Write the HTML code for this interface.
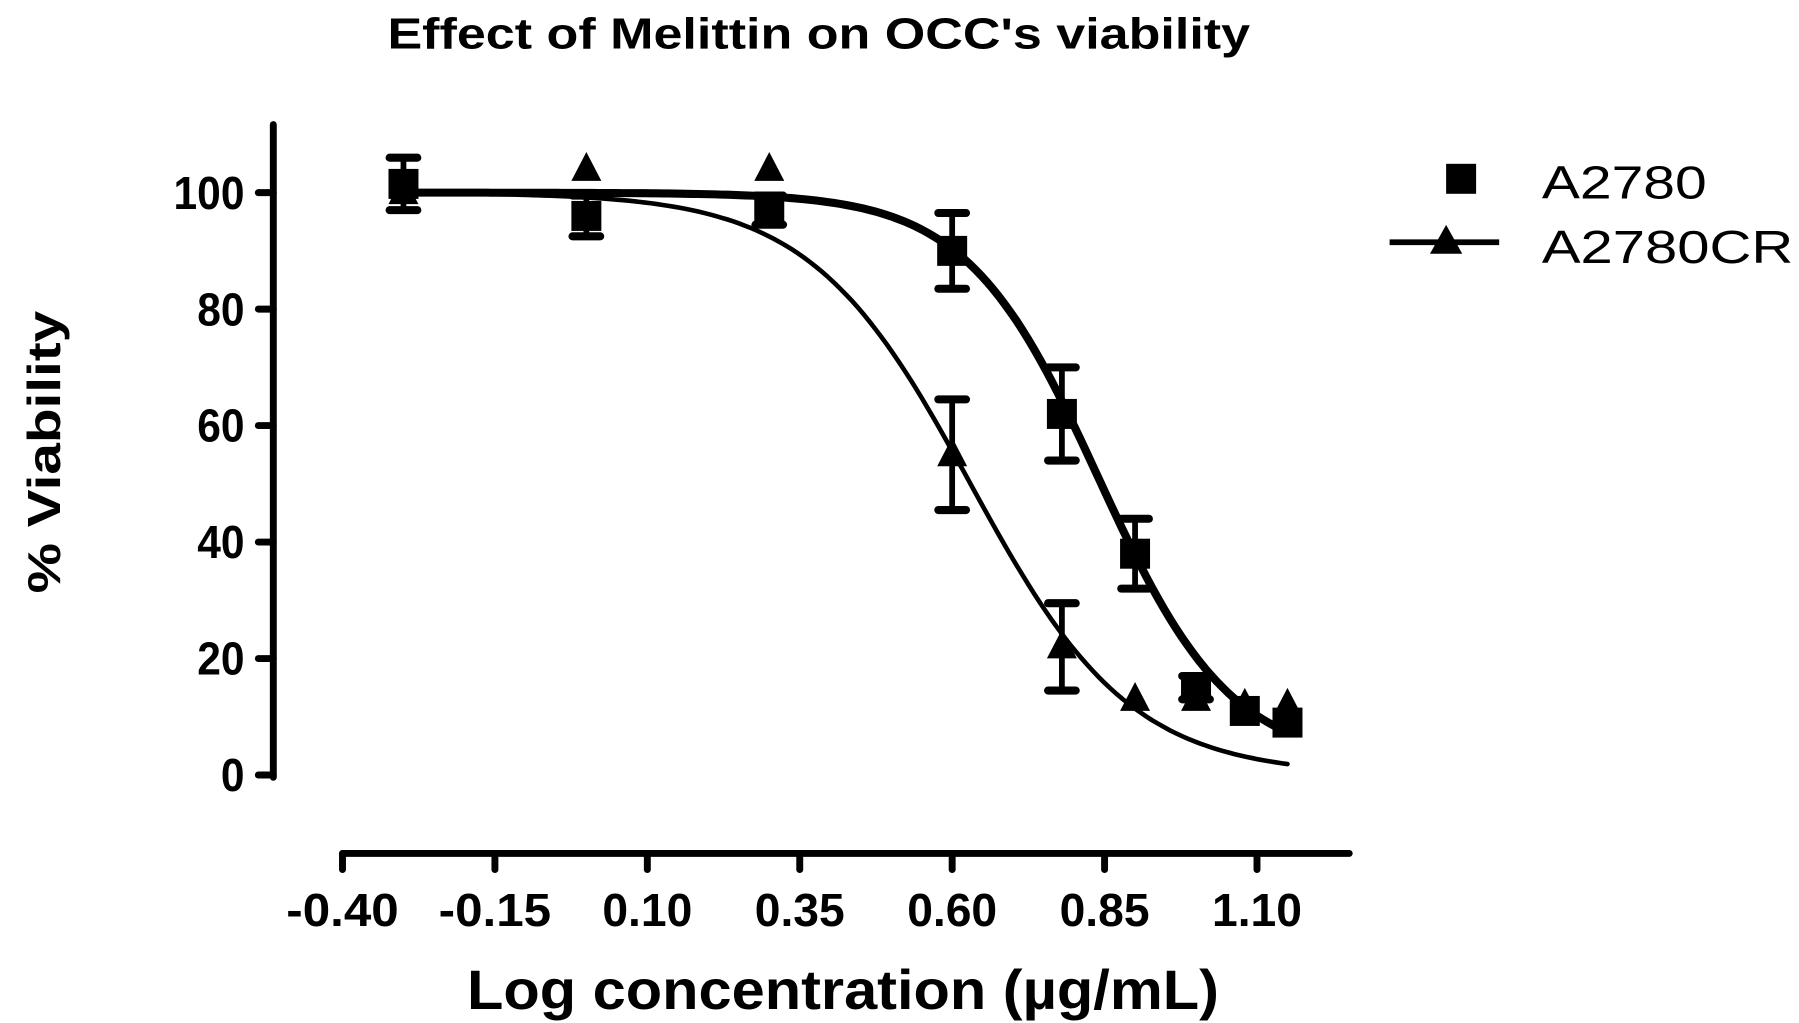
<!DOCTYPE html>
<html><head><meta charset="utf-8"><style>html,body{margin:0;padding:0;background:#fff}svg{display:block}</style></head>
<body>
<svg id="chart" width="1799" height="1023" viewBox="0 0 1560 887" xmlns="http://www.w3.org/2000/svg" font-family="Liberation Sans, sans-serif">
<text x="710" y="42" text-anchor="middle" font-size="38" font-weight="bold" textLength="748" lengthAdjust="spacingAndGlyphs">Effect of Melittin on OCC's viability</text>
<text transform="translate(52,392) rotate(-90)" text-anchor="middle" font-size="40" font-weight="bold" textLength="245" lengthAdjust="spacingAndGlyphs">% Viability</text>
<text x="731" y="875" text-anchor="middle" font-size="48" font-weight="bold" textLength="652" lengthAdjust="spacingAndGlyphs">Log concentration (µg/mL)</text>
<g>
<rect x="1254" y="142" width="26" height="26"/>
<text x="1337" y="172" font-size="40" textLength="143" lengthAdjust="spacingAndGlyphs">A2780</text>
<line x1="1205" y1="210" x2="1300" y2="210" stroke="#000" stroke-width="5"/>
<polygon points="1254,195 1268,220 1240,220"/>
<text x="1337" y="228" font-size="40" textLength="218" lengthAdjust="spacingAndGlyphs">A2780CR</text>
</g>
<g id="plot"></g>
</svg>
<script>
const xTicks = [-0.40, -0.15, 0.10, 0.35, 0.60, 0.85, 1.10];
const yTicks = [0, 20, 40, 60, 80, 100];
const doses = [-0.30, 0.00, 0.30, 0.60, 0.78, 0.90, 1.00, 1.08, 1.15];
const a2780 = [101.5, 96, 97, 90, 62, 38, 15, 11, 9];
const a2780Err = [4.5, 3.5, 2.5, 6.5, 8, 6, 2, 1.5, 1.5];
const a2780cr = [100, 104, 104, 55, 22, 13, 13, 12, 12];
const a2780crErr = [1, 1, 1, 9.5, 7.5, 1, 1, 1, 1];
const fitA2780 = [100, 2, 0.84, 4.0];   // top, bottom, logIC50, hill
const fitA2780cr = [100, 0, 0.63, 3.3];

const NS = 'http://www.w3.org/2000/svg';
const plot = document.getElementById('plot');
const X = v => 297 + (v + 0.4) * (1090 - 297) / 1.5;
const Y = v => 672 - v * (672 - 167) / 100;
function mk(tag, attrs, parent) {
  const e = document.createElementNS(NS, tag);
  for (const k in attrs) e.setAttribute(k, attrs[k]);
  (parent || plot).appendChild(e);
  return e;
}
let e = mk('line', {x1: 237, y1: 108, x2: 237, y2: 674, stroke: '#000', 'stroke-width': 6, 'stroke-linecap': 'round'});


e = mk('line', {x1: 297, y1: 740, x2: 1170, y2: 740, stroke: '#000', 'stroke-width': 6, 'stroke-linecap': 'round'});


yTicks.forEach(t => {
  const l = mk('line', {x1: 224, y1: Y(t), x2: 237, y2: Y(t), stroke: '#000', 'stroke-width': 6, 'stroke-linecap': 'round'});
  
  
  const s = String(t);
  const tx = mk('text', {x: 212, y: Y(t) + 14, 'text-anchor': 'end', 'font-size': 40, 'font-weight': 'bold', textLength: s.length * 20.5, lengthAdjust: 'spacingAndGlyphs'});
  tx.textContent = s;
  
  
});
xTicks.forEach(t => {
  const l = mk('line', {x1: X(t), y1: 740, x2: X(t), y2: 754, stroke: '#000', 'stroke-width': 6, 'stroke-linecap': 'round'});
  
  
  const s = t.toFixed(2);
  const tx = mk('text', {x: X(t), y: 803, 'text-anchor': 'middle', 'font-size': 40, 'font-weight': 'bold', textLength: s.length * 19.5, lengthAdjust: 'spacingAndGlyphs'});
  tx.textContent = s;
  
  
});
function curve(p, w, name) {
  let d = '';
  for (let i = 0; i <= 150; i++) {
    const x = doses[0] + (doses[doses.length - 1] - doses[0]) * i / 150;
    const y = p[1] + (p[0] - p[1]) / (1 + Math.pow(10, (x - p[2]) * p[3]));
    d += (i ? 'L' : 'M') + X(x).toFixed(1) + ',' + Y(y).toFixed(1);
  }
  const c = mk('path', {d: d, fill: 'none', stroke: '#000', 'stroke-width': w, 'stroke-linecap': 'round'});
  
  
}
function errs(vals, errsArr, name) {
  vals.forEach((v, i) => {
    if (errsArr[i] < 2) return;
    const x = X(doses[i]), y1 = Y(v + errsArr[i]), y2 = Y(v - errsArr[i]);
    const g = mk('g', {stroke: '#000', 'stroke-width': 5, 'stroke-linecap': 'round'});
    
    
    mk('line', {x1: x, y1: y1, x2: x, y2: y2}, g);
    mk('line', {x1: x - 12, y1: y1, x2: x + 12, y2: y1, 'stroke-width': 7}, g);
    mk('line', {x1: x - 12, y1: y2, x2: x + 12, y2: y2, 'stroke-width': 7}, g);
  });
}
curve(fitA2780cr, 4, 'fit-curve-a2780cr');
curve(fitA2780, 7, 'fit-curve-a2780');
errs(a2780cr, a2780crErr, 'error-bar-a2780cr');
errs(a2780, a2780Err, 'error-bar-a2780');
a2780cr.forEach((v, i) => {
  const x = X(doses[i]), y = Y(v);
  const p = mk('polygon', {points: `${x},${y - 15} ${x + 13},${y + 10} ${x - 13},${y + 10}`});
  
  
});
a2780.forEach((v, i) => {
  const x = X(doses[i]), y = Y(v);
  const r = mk('rect', {x: x - 13, y: y - 13, width: 26, height: 26});
  
  
});
</script>
</body></html>
